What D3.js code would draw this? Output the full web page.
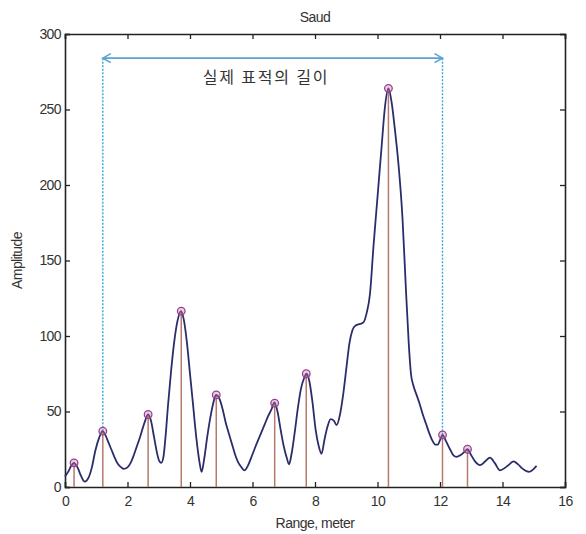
<!DOCTYPE html>
<html>
<head>
<meta charset="utf-8">
<script src="https://cdn.jsdelivr.net/npm/d3@7"></script>
<style>
  html, body { margin: 0; padding: 0; background: #fff; }
  svg { display: block; }
  text { font-family: "Liberation Sans", Arial, sans-serif; fill: #333; }
</style>
</head>
<body>
<svg id="chart" width="586" height="534"></svg>
<script>
// Echo amplitude profile along range
const rangeM = [0, 0.1, 0.2, 0.28, 0.4, 0.52, 0.63, 0.75, 0.86, 0.97, 1.1, 1.2, 1.3, 1.4, 1.5, 1.6, 1.7, 1.8, 1.88, 2.0, 2.1, 2.2, 2.3, 2.4, 2.55, 2.66, 2.75, 2.85, 2.95, 3.02, 3.08, 3.15, 3.22, 3.3, 3.4, 3.5, 3.6, 3.71, 3.8, 3.9, 4.0, 4.1, 4.2, 4.3, 4.37, 4.45, 4.55, 4.65, 4.75, 4.83, 4.95, 5.05, 5.15, 5.25, 5.35, 5.45, 5.55, 5.65, 5.74, 5.85, 5.95, 6.1, 6.2, 6.3, 6.4, 6.5, 6.6, 6.7, 6.8, 6.9, 7.0, 7.1, 7.17, 7.25, 7.35, 7.45, 7.55, 7.65, 7.73, 7.82, 7.92, 8.02, 8.12, 8.21, 8.3, 8.4, 8.5, 8.6, 8.69, 8.8, 8.9, 9.0, 9.1, 9.2, 9.3, 9.45, 9.55, 9.65, 9.76, 9.87, 10.0, 10.13, 10.24, 10.35, 10.45, 10.55, 10.67, 10.8, 10.9, 11.0, 11.07, 11.15, 11.25, 11.35, 11.45, 11.55, 11.65, 11.75, 11.85, 11.93, 12.0, 12.08, 12.2, 12.32, 12.43, 12.53, 12.65, 12.77, 12.88, 13.0, 13.12, 13.28, 13.45, 13.6, 13.75, 13.92, 14.1, 14.22, 14.35, 14.5, 14.65, 14.85, 15.0, 15.09];
const amplitude = [7, 10, 14, 16, 13, 7, 3.5, 6, 13, 24, 33, 37, 34, 29, 24, 19, 15, 13, 12, 13, 16, 21, 27, 33, 43, 48, 44, 33, 22, 17, 16, 20, 34, 55, 78, 97, 110, 116.5, 111, 96, 75, 54, 33, 17, 10, 18, 33, 46, 56, 61, 58, 51, 42, 35, 28, 21, 16, 13, 11, 14, 19, 27, 32, 37, 42, 47, 51, 56, 50, 38, 27, 19, 15, 22, 36, 52, 65, 72, 75, 70, 56, 38, 27, 22, 31, 40, 45, 44, 41, 48, 61, 78, 95, 104, 107, 108, 109, 115, 128, 159, 192, 225, 252, 264, 255, 238, 214, 178, 135, 95, 75, 67, 61, 55, 48, 42, 36, 31, 28, 28, 31, 34.5, 30, 25, 21, 20, 21, 23, 25, 21, 17, 14.5, 17, 19.5, 16, 11, 13, 15, 17, 15, 12, 10, 12, 14];

// Detected peaks (stem + marker)
const peakRange = [0.29, 1.21, 2.66, 3.72, 4.84, 6.71, 7.72, 10.35, 12.08, 12.88];
const peakAmp = [16, 37, 48, 116.5, 61, 55.5, 75, 264, 34.5, 25];

const xTicks = [0, 2, 4, 6, 8, 10, 12, 14, 16];
const yTicks = [0, 50, 100, 150, 200, 250, 300];

const titleText = "Saud";
const xLabel = "Range, meter";
const yLabel = "Amplitude";
const spanLabel = "실제 표적의 길이";
const spanY = 284;           // height of the span arrow, in amplitude units
const spanFrom = peakRange[1];
const spanTo = peakRange[8];

const svg = d3.select("#chart");
const margin = { left: 65, right: 21, top: 34, bottom: 47 };
const W = 586, H = 534;

const x = d3.scaleLinear().domain([0, 16]).range([margin.left, W - margin.right]);
const y = d3.scaleLinear().domain([0, 300]).range([H - margin.bottom, margin.top]);

const tickLen = 5;

// axes: bottom and left with labels, top and right mirrored without labels
const gx = svg.append("g")
  .attr("transform", `translate(0,${y(0)})`)
  .call(d3.axisBottom(x).tickValues(xTicks).tickSize(-tickLen).tickPadding(9).tickFormat(d3.format("d")));
const gy = svg.append("g")
  .attr("transform", `translate(${x(0)},0)`)
  .call(d3.axisLeft(y).tickValues(yTicks).tickSize(-tickLen).tickPadding(4).tickFormat(d3.format("d")));
const gxt = svg.append("g")
  .attr("transform", `translate(0,${y(300)})`)
  .call(d3.axisTop(x).tickValues(xTicks).tickSize(-tickLen).tickFormat(""));
const gyr = svg.append("g")
  .attr("transform", `translate(${x(16)},0)`)
  .call(d3.axisRight(y).tickValues(yTicks).tickSize(-tickLen).tickFormat(""));

[gx, gy, gxt, gyr].forEach(g => {
  g.select(".domain").attr("stroke", "#222").attr("stroke-width", 1.6);
  g.selectAll(".tick line").attr("stroke", "#222").attr("stroke-width", 1.3);
  g.selectAll(".tick text")
    .attr("font-family", "'Liberation Sans', Arial, sans-serif")
    .attr("font-size", 14)
    .attr("letter-spacing", "-0.6px")
    .attr("fill", "#3a3a3a");
});

// stems
svg.append("g").selectAll("line")
  .data(peakRange.map((r, i) => [r, peakAmp[i]]))
  .join("line")
  .attr("x1", d => x(d[0])).attr("x2", d => x(d[0]))
  .attr("y1", y(0)).attr("y2", d => y(d[1]))
  .attr("stroke", "#b57a6c")
  .attr("stroke-width", 1.5);

// dotted guides from the span arrow down to the end peaks
svg.append("g").selectAll("line")
  .data([[spanFrom, peakAmp[1]], [spanTo, peakAmp[8]]])
  .join("line")
  .attr("x1", d => x(d[0])).attr("x2", d => x(d[0]))
  .attr("y1", y(spanY)).attr("y2", d => y(d[1]))
  .attr("stroke", "#3aa6d6")
  .attr("stroke-width", 1.4)
  .attr("stroke-dasharray", "2,1.5");

// amplitude curve
const line = d3.line()
  .x((d, i) => x(rangeM[i]))
  .y(d => y(d))
  .curve(d3.curveMonotoneX);
svg.append("path")
  .datum(amplitude)
  .attr("d", line)
  .attr("fill", "none")
  .attr("stroke", "#2b2d6b")
  .attr("stroke-width", 1.8)
  .attr("stroke-linejoin", "round");

// peak markers
svg.append("g").selectAll("circle")
  .data(peakRange.map((r, i) => [r, peakAmp[i]]))
  .join("circle")
  .attr("cx", d => x(d[0])).attr("cy", d => y(d[1]))
  .attr("r", 3.8)
  .attr("fill", "rgba(200,120,170,0.35)")
  .attr("stroke", "#9c3f90")
  .attr("stroke-width", 1.3);

// span arrow
const ax1 = x(spanFrom), ax2 = x(spanTo), ay = y(spanY);
svg.append("line")
  .attr("x1", ax1).attr("x2", ax2).attr("y1", ay).attr("y2", ay)
  .attr("stroke", "#5ba3d2").attr("stroke-width", 1.6);
const head = 8, half = 4.5;
svg.append("path")
  .attr("d", `M${ax1 + head},${ay - half}L${ax1},${ay}L${ax1 + head},${ay + half}`)
  .attr("fill", "none").attr("stroke", "#5ba3d2").attr("stroke-width", 1.6);
svg.append("path")
  .attr("d", `M${ax2 - head},${ay - half}L${ax2},${ay}L${ax2 - head},${ay + half}`)
  .attr("fill", "none").attr("stroke", "#5ba3d2").attr("stroke-width", 1.6);

svg.append("text")
  .attr("x", 266)
  .attr("y", ay + 25)
  .attr("text-anchor", "middle")
  .style("font-family", "'Noto Sans CJK KR', sans-serif")
  .attr("font-size", 16)
  .attr("letter-spacing", "1.8px")
  .attr("fill", "#333")
  .text(spanLabel);

// title and axis labels
svg.append("text")
  .attr("x", (x(0) + x(16)) / 2)
  .attr("y", 22)
  .attr("text-anchor", "middle")
  .attr("font-size", 14)
  .attr("letter-spacing", "-0.6px")
  .text(titleText);

svg.append("text")
  .attr("x", (x(0) + x(16)) / 2)
  .attr("y", 528)
  .attr("text-anchor", "middle")
  .attr("font-size", 14)
  .attr("letter-spacing", "-0.5px")
  .text(xLabel);

svg.append("text")
  .attr("transform", `translate(22,${(y(0) + y(300)) / 2}) rotate(-90)`)
  .attr("text-anchor", "middle")
  .attr("font-size", 14)
  .attr("letter-spacing", "-0.6px")
  .text(yLabel);
</script>
</body>
</html>
